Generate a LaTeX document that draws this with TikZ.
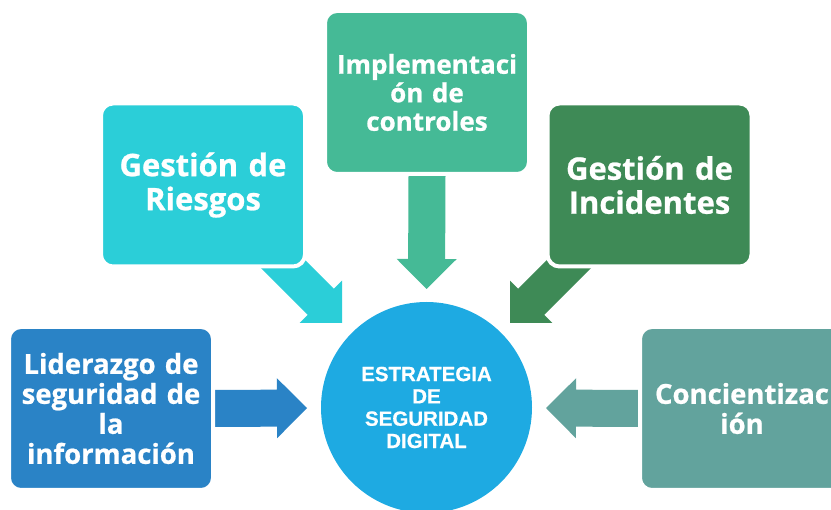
\documentclass[tikz,border=0pt]{standalone}
\usepackage{fontspec}
\setmainfont{Open Sans}[BoldFeatures={FakeBold=0.8}]
\newfontfamily\hubfont{Liberation Sans}[BoldFeatures={FakeBold=0.6}]
\usetikzlibrary{calc}
\pgfdeclarelayer{bg}
\pgfsetlayers{bg,main}
\definecolor{cLid}{HTML}{2A83C6}
\definecolor{cRie}{HTML}{2BCED8}
\definecolor{cImp}{HTML}{45BA96}
\definecolor{cInc}{HTML}{3E8A56}
\definecolor{cCon}{HTML}{62A39D}
\definecolor{cCir}{HTML}{1EAAE2}
\tikzset{
  box/.style={rounded corners=12pt, minimum width=204pt, minimum height=163pt,
    text width=200pt, align=center, text=white, draw=white, line width=4pt, inner sep=0pt},
  bigtxt/.style={font=\fontsize{31}{34}\selectfont\bfseries},
  midtxt/.style={font=\fontsize{27.5}{30}\selectfont\bfseries},
  imptxt/.style={font=\fontsize{26}{28.5}\selectfont\bfseries},
  hub/.style={circle, minimum size=211pt, inner sep=0pt, fill=cCir, text=white, align=center,
    font=\hubfont\fontsize{20.5}{22.3}\selectfont\bfseries},
}
\newcommand\blockarrow[3]{%
  \path (#2) coordinate (ba-a) (#3) coordinate (ba-b);
  \path ($(ba-b)!30pt!(ba-a)$) coordinate (ba-h);
  \fill[#1] ($(ba-a)!18.5pt!90:(ba-b)$) -- ($(ba-h)!18.5pt!90:(ba-b)$)
    -- ($(ba-h)!30pt!90:(ba-b)$) -- (ba-b) -- ($(ba-h)!30pt!-90:(ba-b)$)
    -- ($(ba-h)!18.5pt!-90:(ba-b)$) -- ($(ba-a)!18.5pt!-90:(ba-b)$) -- cycle;
}
\begin{document}
\begin{tikzpicture}[x=1pt,y=-1pt]
\useasboundingbox (0,0) rectangle (831,510);
\clip (0,0) rectangle (831,510);
\node[hub] (c) at (426.5,407.5) {ESTRATEGIA\\DE\\SEGURIDAD\\DIGITAL};
\node[box, fill=cLid, midtxt] (lid) at (111,408.5) {Liderazgo de\\seguridad de\\la\\información};
\node[box, fill=cRie, bigtxt] (rie) at (203,185) {\raisebox{-3pt}{\parbox{200pt}{\centering Gestión de\\Riesgos}}};
\node[box, fill=cImp, imptxt] (imp) at (427,92.5) {Implementaci\\ón de\\controles};
\node[box, fill=cInc, bigtxt] (inc) at (649.5,185) {Gestión de\\Incidentes};
\node[box, fill=cCon, midtxt] (con) at (742,408.5) {Concientizac\\ión};
\coordinate (tl) at (307,408);
\coordinate (tr) at (546,408);
\coordinate (tt) at (426.5,289);
\coordinate (tdl) at (342,323);
\coordinate (tdr) at (510,323);
\coordinate (srie) at (262,243);
\coordinate (sinc) at (590,243);
\begin{pgfonlayer}{bg}
\fill[white] (0,0) rectangle (831,510);
\blockarrow{cLid}{lid.east}{tl}
\blockarrow{cCon}{con.west}{tr}
\blockarrow{cImp}{imp.south}{tt}
\blockarrow{cRie}{srie}{tdl}
\blockarrow{cInc}{sinc}{tdr}
\end{pgfonlayer}
\end{tikzpicture}
\end{document}
